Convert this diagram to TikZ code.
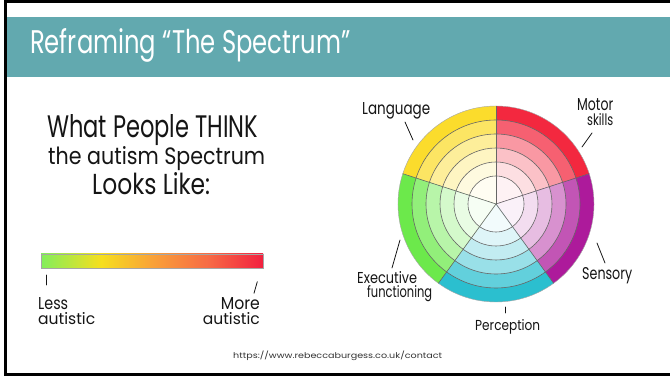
\documentclass[tikz,border=0pt]{standalone}
\usepackage{fontspec}
\usepackage{graphicx}
\setmainfont{Poppins}
\newfontfamily\handfont{Poppins}

\definecolor{band}{HTML}{62A9AF}
\definecolor{cY}{HTML}{FBDC2C}
\definecolor{cR}{HTML}{F3283F}
\definecolor{cP}{HTML}{AD1A9B}
\definecolor{cC}{HTML}{2BBFCF}
\definecolor{cG}{HTML}{6CE94B}
\definecolor{barG}{HTML}{82EE5C}
\definecolor{barY}{HTML}{F6DF1E}
\definecolor{barO}{HTML}{F9A238}
\definecolor{barR1}{HTML}{F76B45}
\definecolor{barR}{HTML}{F2203F}
\definecolor{ink}{HTML}{151515}

% colour bar running green -> yellow -> orange -> red
\pgfdeclarehorizontalshading{autismbar}{100bp}{%
  color(0bp)=(barG); color(25bp)=(barG); color(38.5bp)=(barY);
  color(50bp)=(barO); color(62.5bp)=(barR1); color(75bp)=(barR);
  color(100bp)=(barR)}

% squeeze a text into a given width and height (in pt)
\newcommand{\fitto}[3]{\resizebox{#1pt}{#2pt}{#3}}

\tikzset{
  hand/.style={inner sep=0pt, text=ink, font=\handfont},
  ring/.style={draw=black!60, line width=0.6pt},
  tick/.style={draw=ink, line width=0.8pt, line cap=round},
}

\begin{document}
\begin{tikzpicture}[x=1pt,y=1pt]
\useasboundingbox (0,0) rectangle (670,382);
\fill[white] (0,0) rectangle (670,382);

% title band
\fill[band] (7,305) rectangle (670,365);
\draw[line width=3pt] (670,380.5) -- (5.5,380.5) -- (5.5,7.5) -- (670,7.5);
\node[anchor=base west, inner sep=0pt, text=white] (title) at (30,328)
  {\fitto{320}{25}{Reframing “The Spectrum”}};

% left: the linear view
\node[hand, anchor=base west] (q1) at (47,244) {\fitto{211}{23}{What People THINK}};
\node[hand, anchor=base west] (q2) at (48,217) {\fitto{217}{18}{the autism Spectrum}};
\node[hand, anchor=base west] (q3) at (92,187) {\fitto{118}{22}{Looks Like:}};

\shade[shading=autismbar] (41,114) rectangle (263,128);
\draw[black!35, line width=0.5pt] (41,114) rectangle (263,128);

\coordinate (lt1) at (46.7,107);
\coordinate (lt2) at (46.7,97);
\coordinate (rt1) at (257.3,100.3);
\coordinate (rt2) at (254,88.7);
\draw[tick] (lt1) -- (lt2);
\draw[tick] (rt1) -- (rt2);

\node[hand, anchor=base west] (less) at (38,72) {\fitto{30}{12}{Less}};
\node[hand, anchor=base west] (aut1) at (38,57) {\fitto{57}{12}{autistic}};
\node[hand, anchor=base east] (more) at (260,72) {\fitto{39}{12}{More}};
\node[hand, anchor=base east] (aut2) at (260,57) {\fitto{57}{12}{autistic}};

% right: the wheel of traits
\begin{scope}[shift={(496,178)}]
  \foreach \base/\a/\b in {cY/90/162, cR/18/90, cP/-54/18, cC/-126/-54, cG/162/234} {
    \foreach \r/\p in {98/100, 84/74, 70/48, 56/29, 42/15, 28/6} {
      \fill[\base!\p!white] (0,0) -- (\a:\r) arc[start angle=\a, end angle=\b, radius=\r] -- cycle;
    }
  }
  \foreach \r in {28,42,56,70,84} \draw[ring] (0,0) circle[radius=\r];
  \draw[draw=black!35, line width=0.4pt] (0,0) circle[radius=98];
  \foreach \a in {90,18,-54,-126,162} \draw[ring] (0,0) -- (\a:98);
\end{scope}

\node[hand, anchor=base west] (lang) at (362,267) {\fitto{68}{12}{Language}};
\node[hand, anchor=base west] (motor) at (577,271) {\fitto{36}{12}{Motor}};
\node[hand, anchor=base west] (skills) at (587,256) {\fitto{26}{12}{skills}};
\node[hand, anchor=base west] (sens) at (582,102) {\fitto{50}{12}{Sensory}};
\node[hand, anchor=base west] (perc) at (475,51) {\fitto{65}{11}{Perception}};
\node[hand, anchor=base west] (exec) at (357,98) {\fitto{60}{12}{Executive}};
\node[hand, anchor=base west] (func) at (367,84) {\fitto{65}{12}{functioning}};

\coordinate (lgA) at (405,260);  \coordinate (lgB) at (413,242);
\coordinate (mtA) at (592,249);  \coordinate (mtB) at (582,235);
\coordinate (snA) at (597,139);  \coordinate (snB) at (605,119);
\coordinate (pcA) at (505,75);   \coordinate (pcB) at (505,69);
\coordinate (exA) at (400,142);  \coordinate (exB) at (392,114);
\draw[tick] (lgA) -- (lgB);
\draw[tick] (mtA) -- (mtB);
\draw[tick] (snA) -- (snB);
\draw[tick] (pcA) -- (pcB);
\draw[tick] (exA) -- (exB);

% source line
\node[anchor=base west, inner sep=0pt, text=black!80] (src) at (233,23)
  {\fitto{209}{7.5}{https://www.rebeccaburgess.co.uk/contact}};
\end{tikzpicture}
\end{document}
